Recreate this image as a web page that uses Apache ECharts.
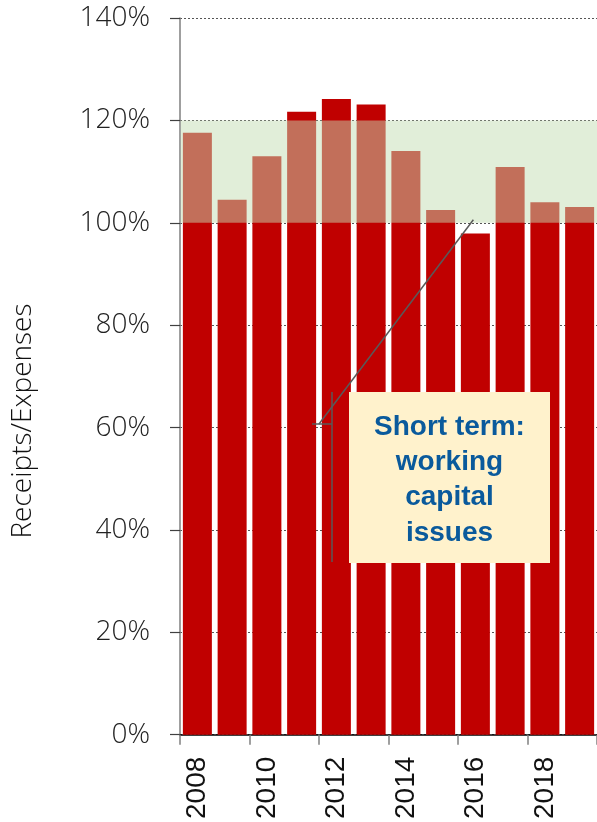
<!DOCTYPE html>
<html>
<head>
<meta charset="utf-8">
<script src="https://cdn.jsdelivr.net/npm/echarts@6/dist/echarts.min.js"></script>
<style>html,body{margin:0;padding:0;background:#fff}#c{width:597px;height:822px}</style>
</head>
<body>
<div id="c"></div>
<script>
const years = ['2008','2009','2010','2011','2012','2013','2014','2015','2016','2017','2018','2019'];
const ratio = [117.6, 104.5, 113.0, 121.7, 124.2, 123.1, 114.0, 102.5, 97.9, 110.9, 104.0, 103.1];
const bandRange = [100, 120];
const yTicks = {min: 0, max: 140, interval: 20};
const yTitle = 'Receipts/Expenses';
const noteLines = ['Short term:', 'working', 'capital', 'issues'];
const noteTarget = ['2016', 100];

const chart = echarts.init(document.getElementById('c'), null, {renderer: 'canvas'});
chart.setOption({
  animation: false,
  grid: {left: 180, top: 18, width: 420, bottom: 87, containLabel: false},
  xAxis: {
    type: 'category', data: years,
    axisLine: {lineStyle: {color: '#000', width: 1.5}},
    axisTick: {show: true, length: 10, lineStyle: {color: '#808080', width: 1.5}, alignWithLabel: false},
    axisLabel: {interval: 1, rotate: 90, fontSize: 28, fontFamily: 'Liberation Sans', color: '#111', margin: 22}
  },
  yAxis: {
    type: 'value', min: yTicks.min, max: yTicks.max, interval: yTicks.interval,
    axisLine: {show: true, lineStyle: {color: '#7f7f7f', width: 1.5}},
    axisTick: {show: true, length: 10, lineStyle: {color: '#404040', width: 1.2}},
    axisLabel: {formatter: '{value}%', fontSize: 28, fontWeight: 300, fontFamily: 'Open Sans', color: '#222', margin: 30},
    splitLine: {show: true, lineStyle: {color: '#555', type: [2, 2], width: 1}}
  },
  series: [
    {
      type: 'bar', data: ratio, barWidth: 29,
      itemStyle: {color: '#C00000'}, z: 2
    }
  ]
});

const tgt = chart.convertToPixel({xAxisIndex: 0, yAxisIndex: 0}, noteTarget);
const bandTop = chart.convertToPixel({yAxisIndex: 0}, bandRange[1]);
const bandBot = chart.convertToPixel({yAxisIndex: 0}, bandRange[0]);
const lineStyle = {stroke: '#595959', lineWidth: 1.5};
const graphics = [
  {type: 'rect', shape: {x: 180.75, y: bandTop, width: 420, height: bandBot - bandTop},
   style: {fill: 'rgba(196,221,180,0.5)'}, z: 50, silent: true},
  {type: 'text', x: 23, y: 421, rotation: Math.PI / 2,
   style: {text: yTitle, fontSize: 28, fontWeight: 300, fontFamily: 'Open Sans', fill: '#111', align: 'center', verticalAlign: 'middle'}},
  {type: 'rect', shape: {x: 349, y: 392, width: 201, height: 171}, style: {fill: '#FFF2CC'}, z: 100},
  {type: 'line', shape: {x1: 332, y1: 392, x2: 332, y2: 562}, style: lineStyle, z: 100},
  {type: 'line', shape: {x1: 312, y1: 424, x2: 332, y2: 424}, style: lineStyle, z: 100},
  {type: 'line', shape: {x1: 319, y1: 424, x2: tgt[0] - 2, y2: tgt[1] - 3}, style: lineStyle, z: 100}
];
noteLines.forEach((t, i) => {
  graphics.push({type: 'text', x: 449.5, y: 427 + i * 35.3, z: 101,
    style: {text: t, fontSize: 28, fontWeight: 'bold', fontFamily: 'Liberation Sans', fill: '#0A5A9C', align: 'center', verticalAlign: 'middle'}});
});
chart.setOption({graphic: graphics});
</script>
</body>
</html>
